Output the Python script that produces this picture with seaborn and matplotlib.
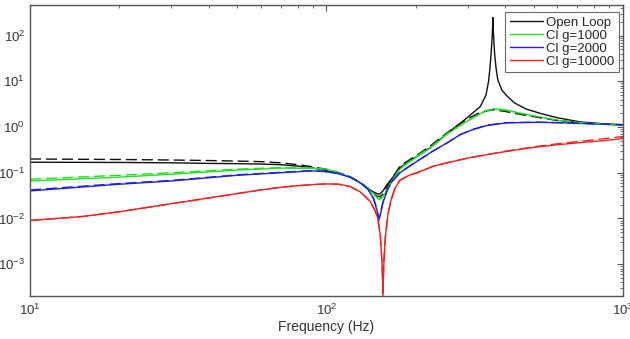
import numpy as np
import pandas as pd
import matplotlib
matplotlib.use('Agg')
import matplotlib.pyplot as plt
import seaborn as sns

# values (frequency in Hz, magnitude)
f_ol = [10, 20, 30, 40, 50, 60, 70, 80, 90, 100, 110, 120, 130, 138, 144, 148, 151, 155, 160,
        165, 177, 190, 205, 223, 255, 298, 330, 345, 352, 356, 359, 361, 363, 364, 365, 367,
        369, 373, 378, 390, 406, 430, 470, 525, 600, 716, 850, 1000]
m_ol = [0.17, 0.168, 0.165, 0.16, 0.158, 0.155, 0.15, 0.14, 0.127, 0.112, 0.097, 0.08, 0.06,
        0.045, 0.038, 0.035, 0.034, 0.04, 0.055, 0.07, 0.13, 0.18, 0.24, 0.35, 0.72, 1.6, 2.8,
        5, 10, 20, 40, 70, 140, 250, 150, 70, 40, 20, 11, 6.5, 4.8, 3.4, 2.5, 2.0, 1.6, 1.3,
        1.18, 1.1]
f_ol_m = [10, 20, 30, 40, 50, 60, 70, 80, 90, 100, 110, 120, 130, 138, 144, 148, 152, 156, 160,
          165, 177, 190, 205, 223, 255, 298, 330, 364, 400, 450, 525, 600, 716, 850, 1000]
m_ol_m = [0.2, 0.195, 0.19, 0.185, 0.18, 0.175, 0.165, 0.15, 0.135, 0.118, 0.1, 0.082, 0.062,
          0.046, 0.036, 0.031, 0.03, 0.036, 0.05, 0.07, 0.14, 0.19, 0.26, 0.38, 0.75, 1.5, 2.1,
          2.4, 2.2, 1.9, 1.6, 1.4, 1.25, 1.18, 1.12]

f_g1 = [10, 20, 30, 50, 70, 90, 100, 110, 120, 130, 138, 144, 148, 151, 154, 158, 165, 177,
        190, 205, 223, 255, 289, 322, 345, 370, 400, 450, 525, 600, 716, 850, 1000]
m_g1 = [0.066, 0.08, 0.093, 0.114, 0.126, 0.125, 0.118, 0.1, 0.08, 0.06, 0.045, 0.034, 0.028,
        0.026, 0.028, 0.036, 0.06, 0.12, 0.17, 0.24, 0.34, 0.7, 1.2, 1.8, 2.3, 2.5, 2.4, 2.0,
        1.65, 1.4, 1.22, 1.15, 1.1]
m_g1_m = [0.072, 0.088, 0.1, 0.12, 0.13, 0.128, 0.12, 0.102, 0.082, 0.061, 0.046, 0.035, 0.029,
          0.027, 0.029, 0.037, 0.062, 0.125, 0.175, 0.25, 0.35, 0.72, 1.2, 1.8, 2.25, 2.45,
          2.35, 2.0, 1.65, 1.42, 1.25, 1.17, 1.12]

f_g2 = [10, 20, 30, 50, 70, 90, 100, 110, 120, 130, 138, 144, 148, 150, 152, 155, 160, 165,
        177, 191, 205, 229, 255, 282, 310, 347, 406, 520, 647, 800, 1000]
m_g2 = [0.04, 0.056, 0.066, 0.088, 0.1, 0.11, 0.105, 0.095, 0.08, 0.06, 0.043, 0.027, 0.015,
        0.009, 0.012, 0.022, 0.04, 0.06, 0.1, 0.14, 0.19, 0.3, 0.45, 0.68, 0.87, 1.08, 1.24,
        1.27, 1.23, 1.17, 1.12]
m_g2_m = [0.042, 0.058, 0.068, 0.09, 0.102, 0.112, 0.106, 0.096, 0.081, 0.061, 0.044, 0.028,
          0.016, 0.01, 0.013, 0.023, 0.041, 0.062, 0.102, 0.142, 0.19, 0.3, 0.45, 0.68, 0.88,
          1.1, 1.25, 1.28, 1.24, 1.18, 1.13]

f_g3 = [10, 15, 20, 30, 40, 50, 60, 70, 80, 90, 100, 110, 120, 130, 140, 145, 149, 152, 154,
        155, 156, 158, 161, 165, 170, 177, 190, 202, 230, 260, 300, 400, 500, 600, 700, 850,
        1000]
m_g3 = [0.009, 0.011, 0.014, 0.021, 0.028, 0.035, 0.042, 0.048, 0.052, 0.055, 0.057, 0.056,
        0.05, 0.038, 0.024, 0.016, 0.01, 0.004, 0.001, 0.0002, 0.001, 0.004, 0.012, 0.025,
        0.045, 0.069, 0.088, 0.1, 0.14, 0.17, 0.21, 0.29, 0.36, 0.41, 0.45, 0.5, 0.56]
m_g3_m = [0.009, 0.011, 0.014, 0.021, 0.028, 0.035, 0.042, 0.048, 0.052, 0.055, 0.057, 0.056,
          0.05, 0.038, 0.024, 0.016, 0.01, 0.004, 0.001, 0.0002, 0.001, 0.004, 0.012, 0.025,
          0.045, 0.069, 0.088, 0.1, 0.14, 0.17, 0.21, 0.295, 0.37, 0.43, 0.48, 0.55, 0.62]

labels = ['Open Loop', 'Cl g=1000', 'Cl g=2000', 'Cl g=10000']
colors = ['#111111', '#22e022', '#2020e0', '#ee2222']

solid = [(f_ol, m_ol), (f_g1, m_g1), (f_g2, m_g2), (f_g3, m_g3)]
dashed = [(f_ol_m, m_ol_m), (f_g1, m_g1_m), (f_g2, m_g2_m), (f_g3, m_g3_m)]

sns.set_style('white')
plt.rcParams['font.family'] = ['Liberation Sans', 'DejaVu Sans']
plt.rcParams['mathtext.fontset'] = 'custom'
plt.rcParams['mathtext.rm'] = 'Liberation Sans'
plt.rcParams['mathtext.it'] = 'Liberation Sans'

fig = plt.figure(figsize=(6.3, 3.39), dpi=100)
ax = fig.add_axes([0.0476, 0.1268, 0.9413, 0.8584])

for (f, m), lab, c in zip(solid, labels, colors):
    df = pd.DataFrame({'freq': f, 'mag': m})
    sns.lineplot(data=df, x='freq', y='mag', color=c, lw=1.0, label=lab, ax=ax,
                 sort=False, estimator=None)

for (f, m), c in zip(dashed, colors):
    df = pd.DataFrame({'freq': f, 'mag': m})
    sns.lineplot(data=df, x='freq', y='mag', color=c, lw=1.0, ax=ax, sort=False,
                 estimator=None, dashes=False, linestyle=(0, (8, 3.5)), legend=False)

ax.set_xscale('log')
ax.set_yscale('log')
ax.set_xlim(10, 1000)
ax.set_ylim(2e-4, 4.7e2)
ax.set_yticks([1e-3, 1e-2, 1e-1, 1e0, 1e1, 1e2])
ax.set_xlabel('Frequency (Hz)', fontsize=10, color='#333333', labelpad=1)
ax.set_ylabel('')

for s in ax.spines.values():
    s.set_color('#555555')
    s.set_linewidth(1.0)
ax.tick_params(which='both', direction='in', top=True, right=True, colors='#555555',
               labelcolor='#333333', labelsize=9.5)
ax.tick_params(which='major', length=4, width=0.8)
ax.tick_params(which='minor', length=2.5, width=0.6)
ax.tick_params(axis='x', pad=5)

leg = ax.legend(loc='upper right', bbox_to_anchor=(0.997, 0.985), frameon=True, fancybox=False,
                fontsize=9.5, handlelength=2.5, handletextpad=0.2, labelspacing=0.05,
                borderpad=0.35, borderaxespad=0.2)
leg.get_frame().set_edgecolor('#444444')
leg.get_frame().set_linewidth(0.8)

fig.savefig('out.png', dpi=100)
